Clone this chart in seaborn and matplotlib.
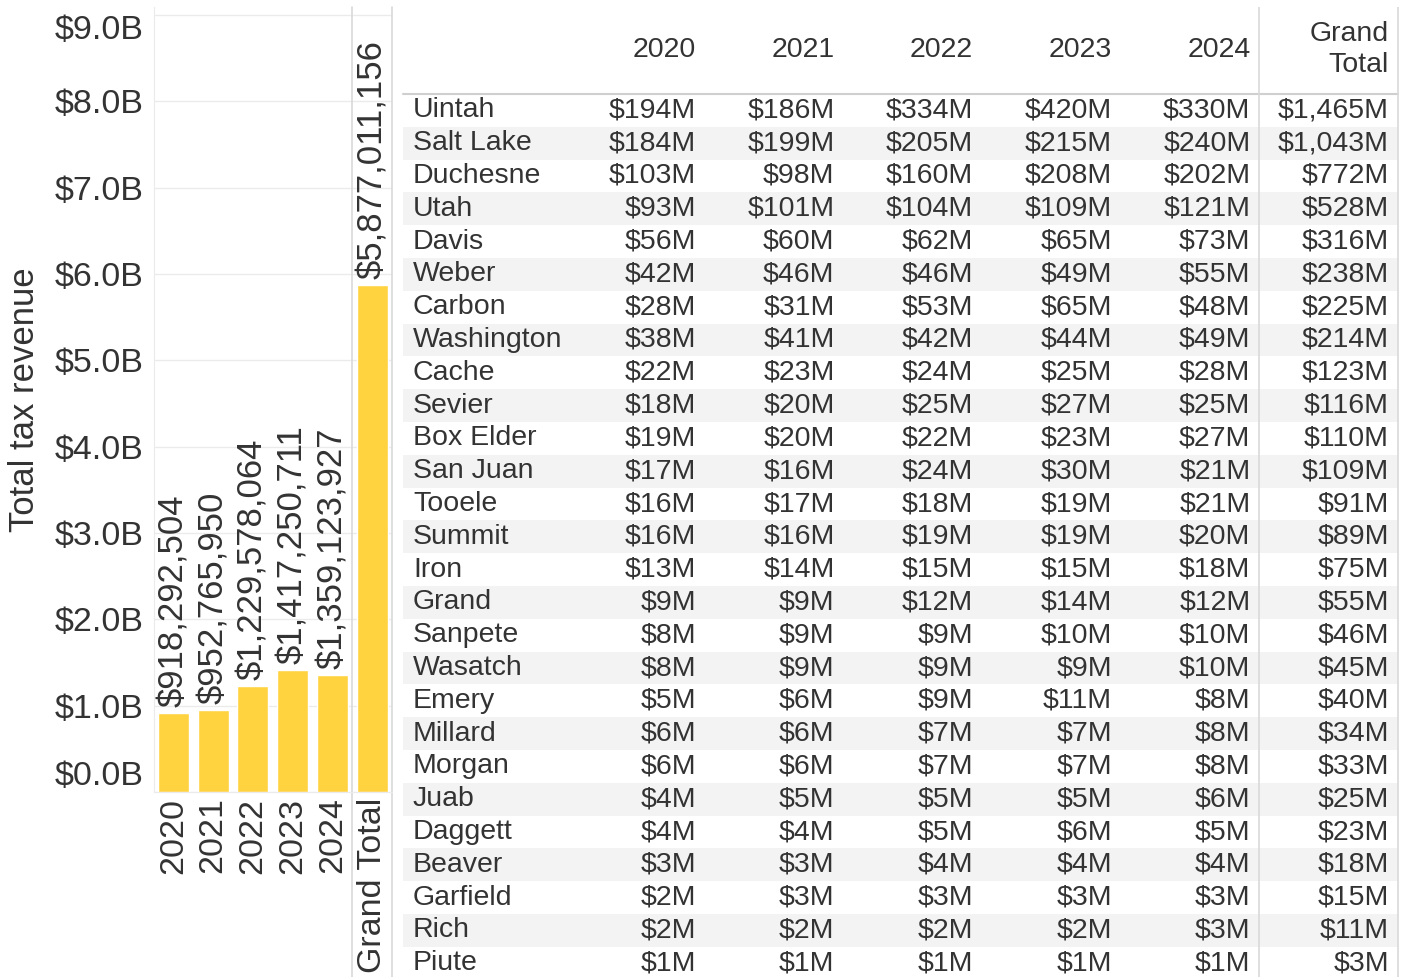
import numpy as np
import pandas as pd
import seaborn as sns
import matplotlib.pyplot as plt

# bar chart data (left)
periods = ['2020', '2021', '2022', '2023', '2024', 'Grand Total']
revenue = [918292504, 952765950, 1229578064, 1417250711, 1359123927, 5877011156]

# table data (right), values in $M
counties = ['Uintah', 'Salt Lake', 'Duchesne', 'Utah', 'Davis', 'Weber', 'Carbon',
            'Washington', 'Cache', 'Sevier', 'Box Elder', 'San Juan', 'Tooele', 'Summit',
            'Iron', 'Grand', 'Sanpete', 'Wasatch', 'Emery', 'Millard', 'Morgan', 'Juab',
            'Daggett', 'Beaver', 'Garfield', 'Rich', 'Piute']
rev_2020 = [194, 184, 103, 93, 56, 42, 28, 38, 22, 18, 19, 17, 16, 16, 13, 9, 8, 8, 5, 6, 6, 4, 4, 3, 2, 2, 1]
rev_2021 = [186, 199, 98, 101, 60, 46, 31, 41, 23, 20, 20, 16, 17, 16, 14, 9, 9, 9, 6, 6, 6, 5, 4, 3, 3, 2, 1]
rev_2022 = [334, 205, 160, 104, 62, 46, 53, 42, 24, 25, 22, 24, 18, 19, 15, 12, 9, 9, 9, 7, 7, 5, 5, 4, 3, 2, 1]
rev_2023 = [420, 215, 208, 109, 65, 49, 65, 44, 25, 27, 23, 30, 19, 19, 15, 14, 10, 9, 11, 7, 7, 5, 6, 4, 3, 2, 1]
rev_2024 = [330, 240, 202, 121, 73, 55, 48, 49, 28, 25, 27, 21, 21, 20, 18, 12, 10, 10, 8, 8, 8, 6, 5, 4, 3, 3, 1]
rev_total = [1465, 1043, 772, 528, 316, 238, 225, 214, 123, 116, 110, 109, 91, 89, 75, 55, 46, 45, 40, 34, 33,
             25, 23, 18, 15, 11, 3]
col_headers = ['2020', '2021', '2022', '2023', '2024', 'Grand\nTotal']

sns.set_style('white')
plt.rcParams['font.family'] = ['Liberation Sans', 'DejaVu Sans']

TXT = '#333333'
LINE = '#d9d9d9'
GRID = '#ebebeb'
W, H = 1411, 977

fig = plt.figure(figsize=(W / 100, H / 100), dpi=100)

# ---- left: bar chart ----
ax = fig.add_axes([153.6 / W, (H - 792) / H, (392 - 153.6) / W, 785 / H])
bars = pd.DataFrame({'period': periods, 'revenue': revenue})
sns.barplot(data=bars, x='period', y='revenue', color='#FFD23F', saturation=1,
            width=0.78, ax=ax)
ax.set_xlim(-0.5, 5.5)
ax.set_ylim(0, 9.093e9)
ax.set_yticks(np.arange(0, 10) * 1e9)
ax.set_yticklabels([f'${v:.1f}B' for v in np.arange(0, 10)])
ax.yaxis.grid(True, color=GRID, lw=1)
ax.set_axisbelow(True)
ax.tick_params(axis='y', length=5, color=GRID, pad=2, labelsize=24.5, labelcolor=TXT)
ax.tick_params(axis='x', length=0, pad=4, labelsize=24.5, labelcolor=TXT)
ax.set_xticks(np.arange(-0.5, 6), minor=True)
ax.tick_params(axis='x', which='minor', length=4, color=GRID)
for lab in ax.get_xticklabels():
    lab.set_rotation(90)
    lab.set_va('top')
ylabs = ax.get_yticklabels()
ylabs[0].set_va('bottom')
ylabs[-1].set_va('top')
ax.set_xlabel('')
ax.set_ylabel('')
ax.spines['top'].set_visible(False)
ax.spines['right'].set_visible(False)
ax.spines['left'].set_color(GRID)
ax.spines['bottom'].set_color(GRID)

for i, v in enumerate(revenue):
    ax.annotate(f'${v:,}', (i, v), xytext=(0, 4), textcoords='offset points',
                rotation=90, ha='center', va='bottom', fontsize=25, color=TXT)

ext = -(H - 792) / 785
ax.axvline(4.5, ymin=ext, ymax=1, color=LINE, lw=1.2, clip_on=False)
ax.axvline(5.5, ymin=ext, ymax=1, color=LINE, lw=1.2, clip_on=False)

fig.text(25 / W, 1 - 400 / H, 'Total tax revenue', rotation=90, ha='center', va='center',
         fontsize=25, color=TXT)

# ---- right: table ----
row_h = 32.8
head_h = 87
tx = fig.add_axes([393 / W, 0, (W - 393) / W, 970 / H])
tx.set_xlim(393, W)
tx.set_ylim((H - 94) / row_h, -head_h / row_h)
tx.axis('off')

table = pd.DataFrame({'county': counties, '2020': rev_2020, '2021': rev_2021, '2022': rev_2022,
                      '2023': rev_2023, '2024': rev_2024, 'total': rev_total})
col_right = [696 + 138.6 * k for k in range(6)]
band_l, band_r = 403, 1398
for i, row in table.iterrows():
    if i % 2 == 1:
        tx.fill_between([band_l, band_r], i, i + 1, color='#f3f3f3', lw=0)
    tx.text(413, i + 0.5, row['county'], ha='left', va='center', fontsize=20.5, color=TXT)
    for k, c in enumerate(['2020', '2021', '2022', '2023', '2024', 'total']):
        tx.text(col_right[k], i + 0.5, f'${row[c]:,}M', ha='right', va='center',
                fontsize=20.5, color=TXT)

for k, h in enumerate(col_headers):
    tx.text(col_right[k], -44 / row_h, h, ha='right', va='center', fontsize=20.5, color=TXT,
            multialignment='right', linespacing=1.25)

tx.plot([band_l, band_r], [0, 0], color='#cfcfcf', lw=1.5)
tx.plot([1259, 1259], [-head_h / row_h, (H - 94) / row_h], color=LINE, lw=1.2)
tx.plot([1398, 1398], [-head_h / row_h, (H - 94) / row_h], color=LINE, lw=1.2)

fig.savefig('out.png', dpi=100)
